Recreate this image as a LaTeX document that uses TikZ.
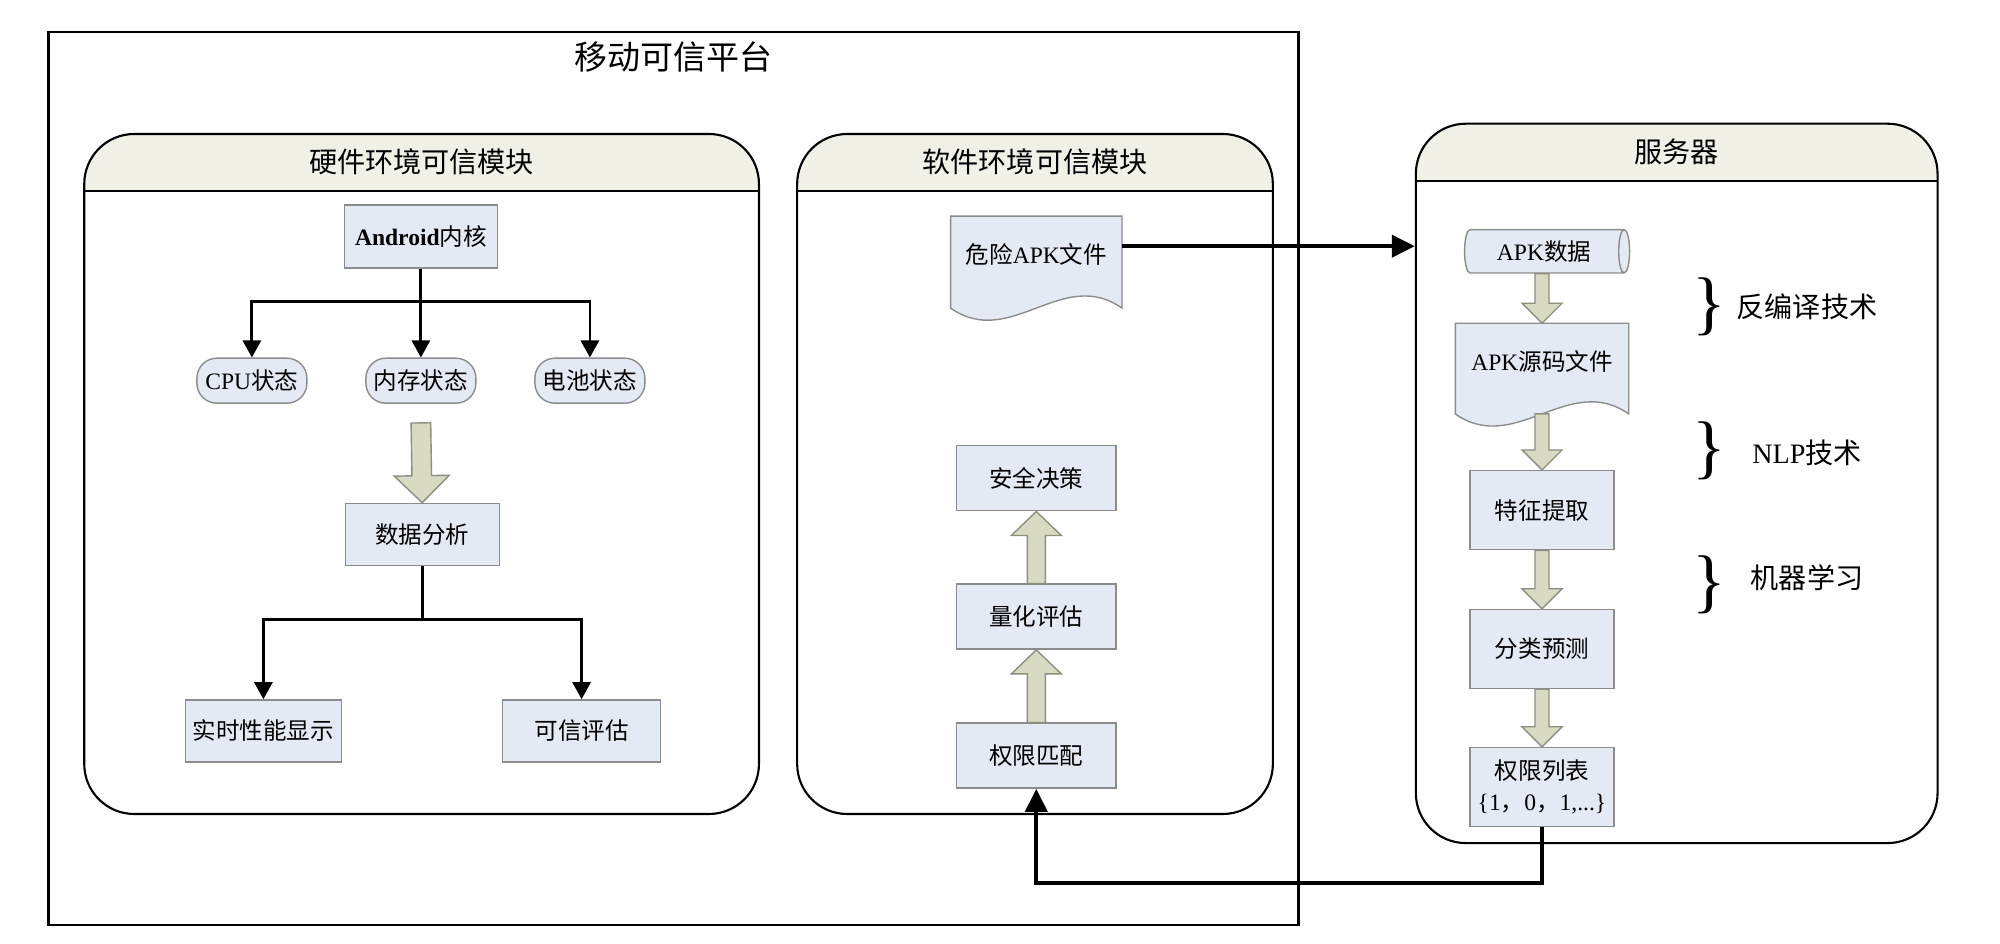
\documentclass[tikz,border=0pt]{standalone}
\usepackage{fontspec}
\setmainfont{Liberation Serif}
\newfontfamily\cjk{Noto Sans CJK SC}
\usetikzlibrary{arrows.meta,calc,backgrounds,shapes.geometric}

\definecolor{boxblue}{HTML}{E4EAF4}
\definecolor{boxline}{HTML}{8C8C8C}
\definecolor{fatfill}{HTML}{D9DAC4}
\definecolor{fatline}{HTML}{8E8E80}
\definecolor{headtop}{HTML}{F0F0E6}
\definecolor{headbot}{HTML}{FDFDFB}

\newcommand{\zh}[1]{{\cjk #1}}
% block arrow: start, tip, half shaft, half head, head length
\newcommand{\fatarrow}[5]{%
  \coordinate (fa) at ($(#2)!#5!(#1)$);
  \draw[fat] ($(#1)!#3!90:(#2)$) -- ($(fa)!#3!-90:(#1)$) -- ($(fa)!#4!-90:(#1)$) -- (#2)
    -- ($(fa)!#4!90:(#1)$) -- ($(fa)!#3!90:(#1)$) -- ($(#1)!#3!-90:(#2)$) -- cycle;}

\tikzset{
    platform-box/.style = {draw, line width=0.7pt, inner sep=0pt, minimum width=12.5cm, minimum height=8.93cm},
    module-box/.style = {draw, line width=0.6pt, rounded corners=0.5cm, inner sep=0pt, path picture={
        \shade[sharp corners, top color=headtop, bottom color=headbot] (path picture bounding box.north west) rectangle ([yshift=-0.574cm]path picture bounding box.north east);
        \draw[sharp corners, line width=0.6pt] ([yshift=-0.574cm]path picture bounding box.north west) -- ([yshift=-0.574cm]path picture bounding box.north east);}},
    main-title/.style = {font=\fontsize{9.4}{11}\selectfont},
    module-title/.style = {font=\fontsize{8}{9.6}\selectfont},
    text-box/.style = {draw=boxline, fill=boxblue, line width=0.4pt, inner sep=0pt, font=\fontsize{6.7}{8.8}\selectfont, align=center},
    pill-box/.style = {text-box, rounded corners=0.2cm, minimum width=1.1cm, minimum height=0.45cm},
    doc-box/.style = {inner sep=0pt, font=\fontsize{6.7}{8.8}\selectfont, text depth=0.17cm},
    doc-shape/.style = {draw=boxline, fill=boxblue, line width=0.4pt},
    store-box/.style = {text-box, cylinder, shape aspect=0.5, minimum height=1.65cm, minimum width=0.434cm},
    fat/.style = {draw=fatline, fill=fatfill, line width=0.4pt},
    bus/.style = {line width=0.8pt},
    link/.style = {bus, -{Triangle[length=0.17cm,width=0.18cm]}},
    big-link/.style = {line width=1.15pt, -{Triangle[length=0.23cm,width=0.22cm]}},
    brace-mark/.style = {inner sep=0pt, font=\fontsize{20}{20}\selectfont},
    brace-text/.style = {font=\fontsize{8}{9.6}\selectfont},
}

\begin{document}
\begin{tikzpicture}
\useasboundingbox (0,0) rectangle (20,9.44);

% frames
\node[platform-box] (plat) at (6.735,4.657) {};
\node[main-title] (platt) at (6.735,8.866) {\zh{移动可信平台}};
\node[module-box, minimum width=6.747cm, minimum height=6.8cm] (hw) at (4.216,4.70) {};
\node[module-box, minimum width=4.757cm, minimum height=6.8cm] (sw) at (10.35,4.70) {};
\node[module-box, minimum width=5.217cm, minimum height=7.194cm] (srv) at (16.767,4.606) {};
\node[module-title] (hwt) at ([yshift=-0.29cm]hw.north) {\zh{硬件环境可信模块}};
\node[module-title] (swt) at ([yshift=-0.29cm]sw.north) {\zh{软件环境可信模块}};
\node[module-title] (srvt) at ([yshift=-0.29cm]srv.north) {\zh{服务器}};

% hardware module
\node[text-box, minimum width=1.53cm, minimum height=0.63cm] (kernel) at (4.209,7.074) {\textbf{Android}\zh{内核}};
\node[pill-box] (cpu) at (2.519,5.633) {CPU\zh{状态}};
\node[pill-box] (mem) at (4.209,5.633) {\zh{内存状态}};
\node[pill-box] (bat) at (5.899,5.633) {\zh{电池状态}};
\node[text-box, minimum width=1.54cm, minimum height=0.62cm] (ana) at (4.222,4.096) {\zh{数据分析}};
\node[text-box, minimum width=1.56cm, minimum height=0.62cm] (show) at (2.634,2.131) {\zh{实时性能显示}};
\node[text-box, minimum width=1.58cm, minimum height=0.62cm] (eval) at (5.816,2.131) {\zh{可信评估}};

\coordinate (kfork) at ([yshift=-0.33cm]kernel.south);
\draw[bus] (kernel.south) -- (kfork);
\draw[link] (kfork) -| (cpu.north);
\draw[link] (kfork) -- (mem.north);
\draw[link] (kfork) -| (bat.north);
\coordinate (memout) at ([yshift=-0.19cm]mem.south);
\fatarrow{memout}{ana.north}{0.098cm}{0.275cm}{0.27cm}
\coordinate (afork) at ([yshift=-0.53cm]ana.south);
\draw[bus] (ana.south) -- (afork);
\draw[link] (afork) -| (show.north);
\draw[link] (afork) -| (eval.north);

% software module
\node[doc-box, minimum width=1.70cm, minimum height=0.906cm] (danger) at (10.363,6.819) {\zh{危险}APK\zh{文件}};
\node[text-box, minimum width=1.594cm, minimum height=0.65cm] (safe) at (10.363,4.657) {\zh{安全决策}};
\node[text-box, minimum width=1.594cm, minimum height=0.65cm] (quant) at (10.363,3.273) {\zh{量化评估}};
\node[text-box, minimum width=1.594cm, minimum height=0.65cm] (match) at (10.363,1.883) {\zh{权限匹配}};
\fatarrow{match.north}{quant.south}{0.09cm}{0.25cm}{0.24cm}
\fatarrow{quant.north}{safe.south}{0.09cm}{0.25cm}{0.24cm}

% server
\node[store-box] (apkdata) at (15.44,6.927) {APK\zh{数据}};
\node[doc-box, minimum width=1.72cm, minimum height=0.893cm] (src) at (15.42,5.754) {APK\zh{源码文件}};
\node[text-box, minimum width=1.44cm, minimum height=0.79cm] (feat) at (15.42,4.338) {\zh{特征提取}};
\node[text-box, minimum width=1.44cm, minimum height=0.79cm] (cls) at (15.42,2.95) {\zh{分类预测}};
\node[text-box, minimum width=1.44cm, minimum height=0.79cm] (perm) at (15.42,1.57) {\zh{权限列表}\\\{1\zh{，}0\zh{，}1,...\}};
\coordinate (dataout) at (apkdata.south -| src.north);
\fatarrow{dataout}{src.north}{0.07cm}{0.2cm}{0.2cm}
\fatarrow{src.south}{feat.north}{0.07cm}{0.2cm}{0.2cm}
\fatarrow{feat.south}{cls.north}{0.07cm}{0.2cm}{0.2cm}
\fatarrow{cls.south}{perm.north}{0.07cm}{0.2cm}{0.2cm}

\node[brace-mark] (br1) at (17.09,6.372) {\}};
\node[brace-text] (bt1) at (18.07,6.371) {\zh{反编译技术}};
\node[brace-mark] (br2) at (17.09,4.931) {\}};
\node[brace-text] (bt2) at (18.07,4.912) {NLP\zh{技术}};
\node[brace-mark] (br3) at (17.09,3.592) {\}};
\node[brace-text] (bt3) at (18.07,3.662) {\zh{机器学习}};

% document outlines
\begin{scope}[on background layer]
\foreach \d in {danger,src}
  \draw[doc-shape] (\d.north west) -- (\d.north east) -- (\d.south east)
    .. controls ($(\d.south east)+(-0.6,0.42)$) and ($(\d.south west)+(0.6,-0.42)$) .. (\d.south west) -- cycle;
\end{scope}

% links between platform and server
\coordinate (dout) at ([yshift=0.159cm]danger.east);
\draw[big-link] (dout) -- (dout -| srv.west);
\draw[big-link] (perm.south) -- ++(0,-0.56) -| (match.south);
\end{tikzpicture}
\end{document}
